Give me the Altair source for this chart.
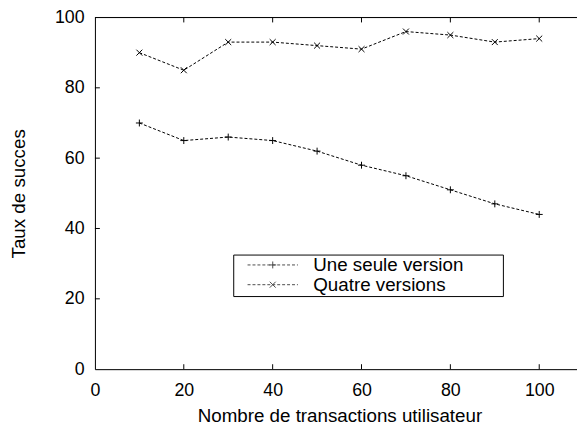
import altair as alt
import pandas as pd

# ---- data ----
x_vals = [10, 20, 30, 40, 50, 60, 70, 80, 90, 100]
une_seule = [70, 65, 66, 65, 62, 58, 55, 51, 47, 44]
quatre = [90, 85, 93, 93, 92, 91, 96, 95, 93, 94]
series_names = ["Une seule version", "Quatre versions"]
x_ticks = [0, 20, 40, 60, 80, 100]
y_ticks = [0, 20, 40, 60, 80, 100]
x_title = "Nombre de transactions utilisateur"
y_title = "Taux de succes"

rows = []
for xv, a, b in zip(x_vals, une_seule, quatre):
    rows.append({"x": xv, "y": a, "serie": series_names[0]})
    rows.append({"x": xv, "y": b, "serie": series_names[1]})
df = pd.DataFrame(rows)

FONT = "Liberation Sans"
FS = 18      # tick labels
FS_T = 19    # titles and legend labels
W, H = 488, 356
XMAX = 108.5

xs = alt.Scale(domain=[0, XMAX], nice=False, zero=False)
ys = alt.Scale(domain=[0, 100], nice=False)

# marker paths (for data points)
plus_small = "M-1,0H1M0,-1V1"
cross_small = "M-0.86,-0.86L0.86,0.86M-0.86,0.86L0.86,-0.86"

# legend sample paths: dashed line with marker (style only)
S = 2.0      # px per path unit for symbolSize 16
SHIFT = 6.0  # px


def sample_path(marker):
    x0, x1, dash, gap = -2.0 + SHIFT, 49.0 + SHIFT, 3.0, 2.0
    parts = []
    a = x0
    while a < x1:
        b = min(a + dash, x1)
        parts.append(f"M{a / S:.3f},0H{b / S:.3f}")
        a += dash + gap
    m = (x0 + x1) / 2
    if marker == "plus":
        parts.append(f"M{(m - 3.5) / S:.3f},0H{(m + 3.5) / S:.3f}M{m / S:.3f},{-3.5 / S:.3f}V{3.5 / S:.3f}")
    else:
        parts.append(f"M{(m - 3) / S:.3f},{-3 / S:.3f}L{(m + 3) / S:.3f},{3 / S:.3f}"
                     f"M{(m - 3) / S:.3f},{3 / S:.3f}L{(m + 3) / S:.3f},{-3 / S:.3f}")
    return "".join(parts)


base = alt.Chart(df)

lines = base.mark_line(color="black", strokeWidth=1, strokeDash=[3, 2]).encode(
    x=alt.X("x:Q", scale=xs,
            axis=alt.Axis(values=x_ticks, title=x_title, tickSize=0, labelPadding=13,
                          labelFontSize=FS, labelFont=FONT, labelColor="black",
                          titleFont=FONT, titleFontSize=FS_T, titleFontWeight="normal",
                          titleColor="black", titleY=53, titleX=247.5,
                          titleBaseline="alphabetic", domainColor="black", grid=False,
                          labelBaseline="top", labelFlush=False)),
    y=alt.Y("y:Q", scale=ys,
            axis=alt.Axis(values=y_ticks, title=y_title, tickSize=0, labelPadding=11,
                          labelFontSize=FS, labelFont=FONT, labelColor="black",
                          titleFont=FONT, titleFontSize=FS_T, titleFontWeight="normal",
                          titleColor="black", titleX=-71, titleY=178, titleAngle=270,
                          titleAlign="center", titleBaseline="alphabetic",
                          domainColor="black", grid=False, labelFlush=False)),
    detail="serie:N",
)

points = base.mark_point(filled=False, color="black", strokeWidth=1, size=49, opacity=1).encode(
    x=alt.X("x:Q", scale=xs),
    y=alt.Y("y:Q", scale=ys),
    shape=alt.Shape("serie:N", scale=alt.Scale(domain=series_names,
                                               range=[plus_small, cross_small]),
                    legend=None),
)

legend_layer = base.transform_filter("false").mark_point(
    filled=False, color="black", strokeWidth=1, size=16).encode(
    x=alt.X("x:Q", scale=xs),
    y=alt.Y("y:Q", scale=ys),
    shape=alt.Shape("serie:N",
                    scale=alt.Scale(domain=series_names,
                                    range=[sample_path("plus"), sample_path("cross")]),
                    legend=alt.Legend(title="\u00a0", titleOrient="right", titlePadding=39,
                                      titleColor="white", titleFontSize=FS_T,
                                      orient="none", legendX=140, legendY=240,
                                      strokeColor="black", fillColor="white", padding=1,
                                      symbolSize=16, symbolStrokeWidth=1,
                                      symbolStrokeColor="black", labelFont=FONT,
                                      labelFontSize=FS_T, labelColor="black",
                                      labelOffset=55 + SHIFT, labelLimit=600, rowPadding=0)),
)

tick_df = pd.DataFrame({"t": x_ticks[1:]})
ytick_df = pd.DataFrame({"t": y_ticks[1:-1]})

bottom_ticks = alt.Chart(tick_df).mark_rule(color="black", strokeWidth=1).encode(
    x=alt.X("t:Q", scale=xs), y=alt.value(H), y2=alt.value(H - 5))
top_ticks = alt.Chart(tick_df).mark_rule(color="black", strokeWidth=1).encode(
    x=alt.X("t:Q", scale=xs), y=alt.value(0), y2=alt.value(5))
left_ticks = alt.Chart(ytick_df).mark_rule(color="black", strokeWidth=1).encode(
    y=alt.Y("t:Q", scale=ys), x=alt.value(0), x2=alt.value(5))
top_border = alt.Chart(pd.DataFrame({"a": [0], "b": [XMAX], "c": [100]})).mark_rule(
    color="black", strokeWidth=1).encode(
    x=alt.X("a:Q", scale=xs), x2="b:Q", y=alt.Y("c:Q", scale=ys))

chart = alt.layer(
    lines, points, legend_layer, bottom_ticks, top_ticks, left_ticks, top_border
).resolve_scale(shape="independent").properties(
    width=W, height=H,
    autosize=alt.AutoSizeParams(type="none"),
    padding={"left": 88, "top": 7, "right": 0, "bottom": 60},
).configure_view(stroke=None).configure(background="white")

chart.save("out.html", embed_options={"renderer": "svg", "actions": False})
